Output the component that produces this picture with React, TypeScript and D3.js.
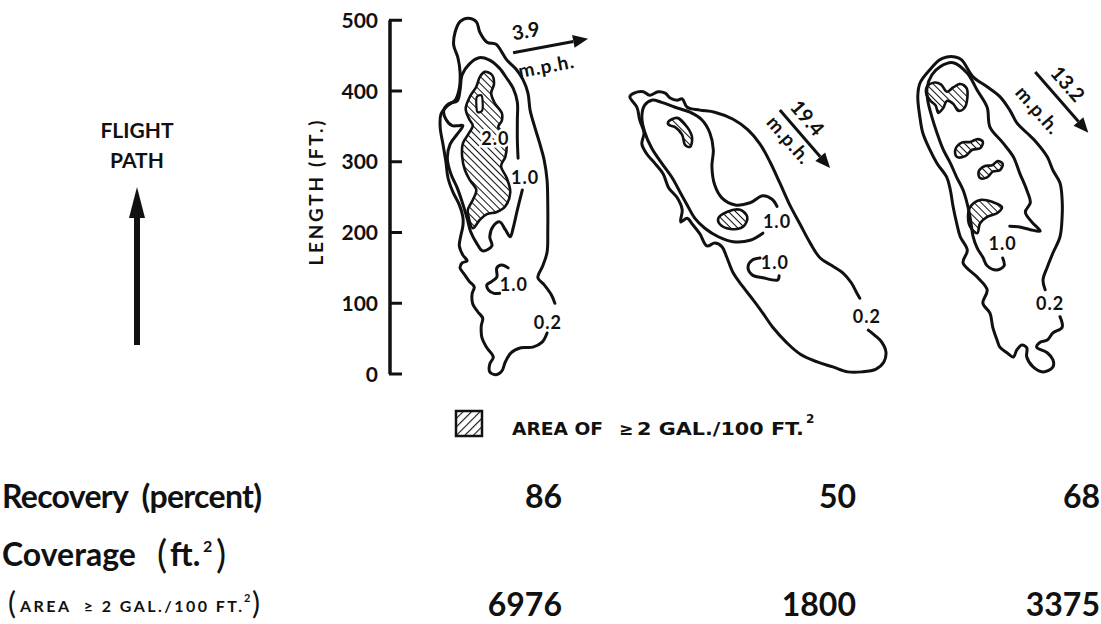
import React from "react";
import * as d3 from "d3";

type Pt = [number, number];

// ---- data (feet: x across the plot area, y along the flight path) ----
const lengthTicks = [0, 100, 200, 300, 400, 500];
const windSpeeds = ["3.9", "19.4", "13.2"];
const recoveryPct = [86, 50, 68];
const coverageFt2 = [6976, 1800, 3375];

// Run 1 (3.9 mph)
const plot1Outer: Pt[] = [[222,58],[215,45],[202,38],[185,37],[171,30],[163,17],[158,4],[150,-1],[141,3],[141,14],[146,24],[137,37],[130,51],[129,68],[131,79],[124,88],[117,99],[116,113],[119,123],[112,131],[105,141],[99,150],[102,157],[109,160],[103,168],[98,181],[100,195],[103,209],[103,222],[98,239],[89,257],[82,277],[79,300],[75,324],[71,348],[72,367],[81,379],[92,387],[98,404],[99,427],[96,447],[90,465],[92,483],[99,498],[110,503],[122,498],[127,483],[137,469],[150,466],[158,455],[165,444],[178,431],[188,416],[195,397],[198,373],[204,351],[211,328],[218,302],[222,274],[223,239],[223,204],[222,172],[216,153],[209,136],[218,126],[228,112],[233,100]];
const plot1Mid: Pt[] = [[187,260],[180,232],[174,206],[170,194],[163,204],[155,215],[146,209],[141,194],[144,181],[131,174],[123,184],[114,201],[109,220],[103,240],[95,263],[86,283],[81,305],[85,325],[95,339],[103,351],[96,351],[88,351],[79,360],[76,373],[83,382],[95,386],[99,401],[102,423],[112,438],[126,447],[140,444],[154,433],[165,418],[174,404],[180,384],[180,359],[180,331],[181,305]];
const plot1Small: Pt[] = [[167,150],[158,154],[151,150],[151,137],[144,131],[137,126],[139,119],[147,114],[155,114]];
const plot1Hatch: Pt[] = [[134,427],[144,423],[147,410],[143,397],[148,383],[158,369],[158,358],[153,349],[163,338],[165,324],[163,307],[157,294],[165,277],[170,257],[163,237],[151,229],[137,226],[127,218],[117,206],[112,218],[110,232],[117,246],[122,260],[113,274],[106,288],[102,307],[103,326],[112,341],[117,351],[112,360],[107,375],[113,392],[122,406],[127,420]];
const plot1Hole: Pt[] = [[123,392],[129,394],[131,383],[130,372],[124,370],[122,382]];

// Run 2 (19.4 mph)
const plot2Outer: Pt[] = [[676,62],[686,54],[695,45],[701,31],[698,17],[687,7],[667,3],[647,3],[626,10],[604,17],[580,28],[561,44],[541,66],[527,86],[513,105],[499,123],[485,143],[476,165],[469,180],[459,185],[448,181],[438,198],[428,211],[420,220],[411,215],[413,232],[406,249],[394,263],[386,283],[375,297],[363,311],[356,325],[359,341],[353,359],[349,377],[339,392],[345,397],[358,399],[367,394],[379,399],[389,397],[396,390],[406,387],[413,389],[420,377],[438,373],[459,370],[485,360],[506,345],[523,325],[537,300],[551,270],[565,239],[580,211],[594,185],[608,164],[625,153],[640,143],[652,129],[660,114],[664,107]];
const plot2Mid: Pt[] = [[527,199],[509,189],[485,187],[464,194],[445,206],[431,220],[420,239],[410,257],[399,277],[384,298],[370,319],[360,342],[356,363],[360,380],[370,387],[384,384],[403,377],[424,370],[441,359],[452,341],[457,317],[455,293],[459,267],[469,249],[488,239],[509,242],[527,252],[540,247],[547,237]];
const plot2Small: Pt[] = [[523,164],[512,161],[506,151],[512,140],[527,136],[548,133],[550,139]];
const plot2HatchA: Pt[] = [[393,356],[406,362],[420,349],[427,334],[424,321],[417,324],[413,338],[403,349],[394,352]];
const plot2HatchB: Pt[] = [[464,220],[476,229],[495,232],[505,222],[499,208],[481,205],[466,212]];

// Run 3 (13.2 mph)
const plot3Outer: Pt[] = [[947,81],[950,66],[937,58],[929,48],[919,45],[914,38],[929,30],[937,20],[937,10],[923,3],[909,10],[900,24],[900,37],[893,41],[886,34],[881,24],[872,30],[862,38],[858,48],[852,66],[848,86],[838,100],[844,119],[830,137],[810,157],[816,175],[806,194],[801,213],[796,236],[792,260],[787,278],[773,298],[763,317],[753,341],[749,363],[746,392],[749,411],[763,430],[777,444],[787,448],[799,448],[808,444],[824,420],[844,406],[862,392],[876,373],[886,355],[900,341],[914,327],[929,307],[937,288],[947,270],[950,246],[950,222],[947,194],[937,171],[929,151],[923,133],[926,119]];
const plot3Mid: Pt[] = [[866,164],[868,153],[858,147],[844,153],[838,165],[830,178],[824,195],[821,215],[817,236],[810,260],[801,278],[792,298],[782,317],[773,341],[766,363],[760,387],[759,404],[766,423],[777,434],[796,440],[816,425],[830,401],[844,377],[848,349],[866,327],[881,307],[890,284],[900,260],[905,242],[898,229],[907,215],[919,202],[905,204],[888,208],[876,209]];
const plot3HatchA: Pt[] = [[759,406],[770,412],[779,409],[787,399],[796,405],[806,410],[815,404],[816,390],[812,376],[803,372],[796,382],[787,386],[782,376],[775,369],[771,380],[764,386],[758,396]];
const plot3HatchB: Pt[] = [[799,317],[808,327],[820,328],[831,332],[838,328],[834,319],[823,317],[813,308],[801,307]];
const plot3HatchC: Pt[] = [[832,286],[841,294],[851,295],[859,301],[866,297],[862,288],[852,286],[844,278],[834,277]];
const plot3HatchD: Pt[] = [[820,236],[834,246],[852,243],[865,236],[859,228],[844,222],[834,213],[830,199],[820,208],[817,222]];

const contourLabelText = ["2.0", "1.0", "1.0", "0.2", "1.0", "1.0", "0.2", "1.0", "0.2"];
const contourLabelAt: Pt[] = [[149,333],[191,278],[175,126],[223,73],[547,215],[544,158],[674,81],[866,185],[933,100]];

const windTail: Pt[] = [[174,454],[551,373],[912,427]];
const windHead: Pt[] = [[280,474],[622,291],[987,341]];
const speedLabelAt: Pt[] = [[192,485],[590,362],[958,410]];
const unitLabelAt: Pt[] = [[222,431],[561,328],[913,370]];

// ---- layout ----
const W = 1101;
const H = 624;
const FONT = "Lato, 'DejaVu Sans', sans-serif";
const WIDE = "'DejaVu Sans', sans-serif";
const colRight = [562, 856, 1100];

export default function App() {
  const x = d3.scaleLinear().domain([0, 1000]).range([390, 390 + 707.5]);
  const y = d3.scaleLinear().domain([0, 500]).range([374, 20.25]);
  const openLine = d3.line<Pt>().x(d => x(d[0])).y(d => y(d[1])).curve(d3.curveCatmullRom.alpha(0.5));
  const closedLine = d3.line<Pt>().x(d => x(d[0])).y(d => y(d[1])).curve(d3.curveCatmullRomClosed.alpha(0.5));

  const openContours = [plot1Outer, plot1Mid, plot1Small, plot2Outer, plot2Mid, plot2Small, plot3Outer, plot3Mid];
  const hatched = [plot1Hatch, plot2HatchA, plot2HatchB, plot3HatchA, plot3HatchB, plot3HatchC, plot3HatchD];
  const holes = [plot1Hole];

  const axX = x(0);

  const arrows = windTail.map((t, i) => {
    const x1 = x(t[0]), y1 = y(t[1]);
    const x2 = x(windHead[i][0]), y2 = y(windHead[i][1]);
    const len = Math.hypot(x2 - x1, y2 - y1);
    const ux = (x2 - x1) / len, uy = (y2 - y1) / len;
    const nx = -uy, ny = ux;
    const hl = 15, hw = 6.5;
    const bx = x2 - ux * hl, by = y2 - uy * hl;
    const ang = (Math.atan2(y2 - y1, x2 - x1) * 180) / Math.PI;
    return { x1, y1, bx, by, x2, y2, nx, ny, hw, ang };
  });

  return (
    <div>
      <style>{`body{margin:0;background:#fff}`}</style>
      <svg width={W} height={H} style={{ display: "block", background: "#fff" }} fontFamily={FONT}>
        <defs>
          <pattern id="hatchBack" patternUnits="userSpaceOnUse" width={5} height={5} patternTransform="rotate(-45)">
            <rect width={5} height={5} fill="#fff" />
            <line x1={0} y1={0} x2={0} y2={5} stroke="#111" strokeWidth={2} />
          </pattern>
          <pattern id="hatchFwd" patternUnits="userSpaceOnUse" width={6} height={6} patternTransform="rotate(45)">
            <rect width={6} height={6} fill="#fff" />
            <line x1={0} y1={0} x2={0} y2={6} stroke="#111" strokeWidth={2.2} />
          </pattern>
        </defs>

        {/* Flight path indicator */}
        <text x={137} y={138} textAnchor="middle" fontSize={21} fontWeight={700} fill="#111">FLIGHT</text>
        <text x={137} y={168} textAnchor="middle" fontSize={21} fontWeight={700} fill="#111">PATH</text>
        <line x1={137} y1={345} x2={137} y2={212} stroke="#111" strokeWidth={6} />
        <path d="M137,187 L145,218 L129,218 Z" fill="#111" />

        {/* Y axis */}
        <line x1={axX} y1={y(0)} x2={axX} y2={y(500)} stroke="#111" strokeWidth={3.5} />
        {lengthTicks.map(t => (
          <g key={t}>
            <line x1={axX - 1} y1={y(t)} x2={axX + 12} y2={y(t)} stroke="#111" strokeWidth={3} />
            <text x={axX - 12} y={y(t)} dy="0.36em" textAnchor="end" fontSize={21} fontWeight={700} fill="#111">{t}</text>
          </g>
        ))}
        <text transform={`translate(316,193) rotate(-90)`} textAnchor="middle" dy="0.36em" fontSize={19} fontWeight={700} fill="#111" textLength={145} lengthAdjust="spacing">LENGTH (FT.)</text>

        {/* hatched areas >= 2 gal/100 ft2 */}
        {hatched.map((h, i) => (
          <path key={"h" + i} d={closedLine(h) || ""} fill="url(#hatchBack)" stroke="#111" strokeWidth={2.6} strokeLinejoin="round" />
        ))}
        {holes.map((h, i) => (
          <path key={"o" + i} d={closedLine(h) || ""} fill="#fff" stroke="#111" strokeWidth={2.2} />
        ))}

        {/* contour lines */}
        {openContours.map((c, i) => (
          <path key={"c" + i} d={openLine(c) || ""} fill="none" stroke="#111" strokeWidth={3} strokeLinejoin="round" strokeLinecap="round" />
        ))}

        {/* contour labels */}
        {contourLabelText.map((t, i) => (
          <text key={"l" + i} x={x(contourLabelAt[i][0])} y={y(contourLabelAt[i][1])} dy="0.36em" textAnchor="middle" fontSize={18} fontWeight={700} fill="#111" stroke="#fff" strokeWidth={i === 0 ? 5 : 0} paintOrder="stroke" letterSpacing={1}>{t}</text>
        ))}

        {/* wind arrows */}
        {arrows.map((a, i) => (
          <g key={"w" + i}>
            <line x1={a.x1} y1={a.y1} x2={a.bx} y2={a.by} stroke="#111" strokeWidth={3} />
            <path d={`M${a.x2},${a.y2} L${a.bx + a.nx * a.hw},${a.by + a.ny * a.hw} L${a.bx - a.nx * a.hw},${a.by - a.ny * a.hw} Z`} fill="#111" />
            <text transform={`translate(${x(speedLabelAt[i][0])},${y(speedLabelAt[i][1])}) rotate(${a.ang})`} textAnchor="middle" dy="0.36em" fontSize={20} fontWeight={700} fill="#111">{windSpeeds[i]}</text>
            <text transform={`translate(${x(unitLabelAt[i][0])},${y(unitLabelAt[i][1])}) rotate(${a.ang})`} textAnchor="middle" dy="0.2em" fontSize={19} fontWeight={700} fill="#111" letterSpacing={1}>m.p.h.</text>
          </g>
        ))}

        {/* legend */}
        <rect x={456} y={411} width={26} height={25} fill="url(#hatchFwd)" stroke="#111" strokeWidth={2.5} />
        <text x={512} y={435} fontFamily={WIDE} fontSize={18} fontWeight={700} fill="#111" textLength={91} lengthAdjust="spacingAndGlyphs">AREA OF</text>
        <text x={619} y={435} fontFamily={WIDE} fontSize={17} fontWeight={700} fill="#111">≥</text>
        <text x={637} y={435} fontFamily={WIDE} fontSize={18} fontWeight={700} fill="#111" textLength={167} lengthAdjust="spacingAndGlyphs">2 GAL./100 FT.</text>
        <text x={806} y={423} fontFamily={WIDE} fontSize={12} fontWeight={700} fill="#111">2</text>

        {/* summary rows */}
        <text x={2} y={508} fontSize={32} fontWeight={700} fill="#111" style={{ whiteSpace: "pre" }} textLength={260} lengthAdjust="spacing">Recovery  (percent)</text>
        {recoveryPct.map((v, i) => (
          <text key={"r" + i} x={colRight[i]} y={508} textAnchor="end" fontSize={32} fontWeight={700} fill="#111">{v}</text>
        ))}
        <text x={2} y={566} fontSize={32} fontWeight={700} fill="#111">Coverage</text>
        <text x={157} y={568} fontSize={38} fontWeight={400} fill="#111">(</text>
        <text x={170} y={566} fontSize={32} fontWeight={700} fill="#111">ft.</text>
        <text x={203} y={552} fontSize={16} fontWeight={700} fill="#111">2</text>
        <text x={216} y={568} fontSize={38} fontWeight={400} fill="#111">)</text>

        <text x={8} y={614} fontSize={30} fontWeight={400} fill="#111">(</text>
        <text x={20} y={612} fontSize={16} fontWeight={700} fill="#111" style={{ whiteSpace: "pre" }} textLength={222} lengthAdjust="spacing">AREA  ≥ 2 GAL./100 FT.</text>
        <text x={244} y={602} fontSize={11} fontWeight={700} fill="#111">2</text>
        <text x={252} y={614} fontSize={30} fontWeight={400} fill="#111">)</text>
        {coverageFt2.map((v, i) => (
          <text key={"v" + i} x={colRight[i]} y={616} textAnchor="end" fontSize={32} fontWeight={700} fill="#111">{v}</text>
        ))}
      </svg>
    </div>
  );
}
